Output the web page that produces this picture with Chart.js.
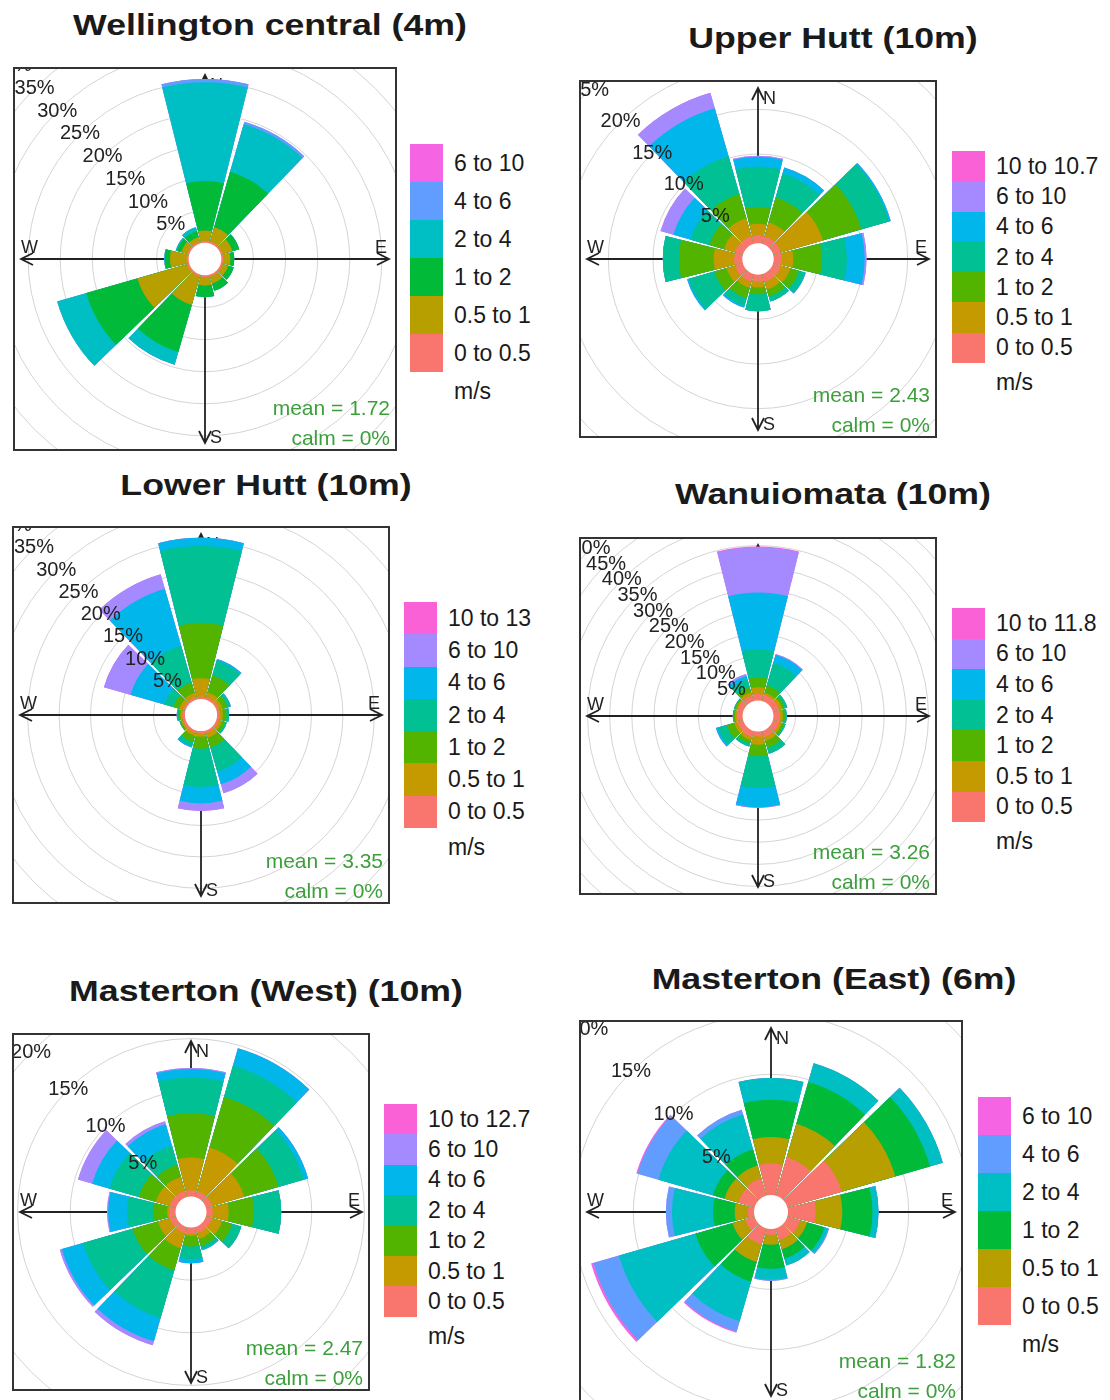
<!DOCTYPE html>
<html>
<head>
<meta charset="utf-8">
<title>Wind roses</title>
<script src="https://cdn.jsdelivr.net/npm/chart.js@4.4.1/dist/chart.umd.min.js"></script>
<style>
  body { margin: 0; background: #fff; font-family: "Liberation Sans", Arial, sans-serif; color: #1a1a1a; }
  #page { position: relative; width: 1110px; height: 1400px; overflow: hidden; }
  .title { position: absolute; width: 500px; text-align: center; font-weight: bold; font-size: 29px;
           line-height: 34px; white-space: nowrap; transform: scaleX(1.23); }
  .box { position: absolute; border: 2px solid #333; box-sizing: border-box; background: #fff; }
  .box canvas { display: block; }
  .legend { position: absolute; font-size: 23px; }
  .legend .row { display: flex; align-items: center; }
  .legend .sw { width: 33px; height: 100%; }
  .legend .lab { margin-left: 11px; white-space: nowrap; }
</style>
</head>
<body>
<div id="page"></div>
<script>
// wind direction sectors (degrees from north), 30 degree bins
const directions = [0, 30, 60, 90, 120, 150, 180, 210, 240, 270, 300, 330];

const titles = ['Wellington central (4m)', 'Upper Hutt (10m)', 'Lower Hutt (10m)',
                'Wanuiomata (10m)', 'Masterton (West) (10m)', 'Masterton (East) (6m)'];
const means = ['1.72', '2.43', '3.35', '3.26', '2.47', '1.82'];
const calms = ['0%', '0%', '0%', '0%', '0%', '0%'];

// speed bins (m/s), lowest first
const binsWellington = ['0 to 0.5', '0.5 to 1', '1 to 2', '2 to 4', '4 to 6', '6 to 10'];
const binsUpperHutt = ['0 to 0.5', '0.5 to 1', '1 to 2', '2 to 4', '4 to 6', '6 to 10', '10 to 10.7'];
const binsLowerHutt = ['0 to 0.5', '0.5 to 1', '1 to 2', '2 to 4', '4 to 6', '6 to 10', '10 to 13'];
const binsWainui = ['0 to 0.5', '0.5 to 1', '1 to 2', '2 to 4', '4 to 6', '6 to 10', '10 to 11.8'];
const binsMastertonW = ['0 to 0.5', '0.5 to 1', '1 to 2', '2 to 4', '4 to 6', '6 to 10', '10 to 12.7'];
const binsMastertonE = ['0 to 0.5', '0.5 to 1', '1 to 2', '2 to 4', '4 to 6', '6 to 10'];

const colors6 = ['#F8766D', '#B79F00', '#00BA38', '#00BFC4', '#619CFF', '#F564E3'];
const colors7 = ['#F8766D', '#C49A00', '#53B400', '#00C094', '#00B6EB', '#A58AFF', '#FB61D7'];

// frequency (% of time): one row per speed bin, one column per direction
const wellingtonFreq = [
  [0.3, 0.3, 0.3, 0.3, 0.3, 0.3, 0.3, 0.3, 0.3, 0.3, 0.3, 0.3],
  [1.6, 2.3, 1.6, 1.1, 0.9, 1.1, 1.3, 4.6, 8.1, 2.6, 1.0, 0.7],
  [7.7, 9.0, 1.1, 0.6, 0.9, 1.2, 1.8, 7.6, 8.3, 0.8, 0.7, 1.0],
  [15.4, 7.7, 0, 0, 0, 0, 0, 2.1, 4.7, 0.1, 0.2, 0.6],
  [0.5, 0.4, 0, 0, 0, 0, 0, 0, 0, 0, 0, 0],
  [0, 0, 0, 0, 0, 0, 0, 0, 0, 0, 0, 0]
];
const upperHuttFreq = [
  [0.9, 0.9, 0.9, 0.9, 0.9, 0.9, 0.8, 0.9, 0.9, 0.9, 0.9, 0.9],
  [1.3, 1.6, 4.9, 1.3, 1.1, 0.9, 0.6, 0.7, 1.0, 2.3, 1.3, 2.1],
  [1.9, 2.9, 4.5, 3.2, 1.0, 0.8, 0.8, 1.2, 1.4, 3.9, 1.7, 2.8],
  [4.5, 2.8, 3.2, 2.8, 0.7, 0.6, 1.9, 0.9, 3.0, 1.8, 2.2, 4.4],
  [1.1, 0.7, 0.2, 2.0, 0.1, 0, 0, 0.2, 0.2, 0, 2.0, 5.6],
  [0.1, 0, 0, 0.2, 0, 0, 0, 0, 0, 0, 1.5, 1.8],
  [0, 0, 0, 0, 0, 0, 0, 0, 0, 0, 0, 0]
];
const lowerHuttFreq = [
  [0.4, 0.4, 0.4, 0.4, 0.4, 0.4, 0.4, 0.4, 0.4, 0.4, 0.4, 0.4],
  [2.9, 0.8, 0.6, 0.5, 0.5, 0.8, 0.5, 0.5, 0.3, 0.3, 0.6, 0.7],
  [8.8, 2.8, 0.8, 0.6, 0.5, 1.6, 1.9, 1.0, 0.2, 0.3, 1.0, 1.7],
  [12.2, 2.4, 0.5, 0.4, 0.3, 4.0, 6.1, 0.7, 0.1, 0.2, 1.5, 6.1],
  [1.3, 0.3, 0.1, 0, 0, 2.1, 2.6, 0.2, 0, 0.1, 5.6, 9.4],
  [0, 0, 0, 0, 0, 1.5, 1.2, 0, 0, 0, 4.4, 2.4],
  [0, 0, 0, 0, 0, 0, 0, 0, 0, 0, 0, 0]
];
const wainuiFreq = [
  [1.5, 1.5, 1.5, 1.5, 1.5, 1.5, 1.1, 1.5, 1.3, 1.3, 1.3, 1.3],
  [1.5, 0.5, 0.7, 0.6, 0.6, 0.9, 1.9, 0.7, 0.8, 0.4, 0.4, 0.8],
  [2.2, 1.7, 0.6, 0.5, 0.5, 1.6, 2.6, 0.8, 1.7, 0.3, 0.3, 1.2],
  [6.4, 5.3, 0.6, 0.4, 0.4, 1.4, 7.2, 0.7, 2.1, 0.2, 0.2, 1.8],
  [12.8, 1.9, 0, 0, 0, 0, 4.3, 0, 0.5, 0, 0, 0.9],
  [10.2, 0.2, 0, 0, 0, 0, 0.2, 0, 0, 0, 0, 0.4],
  [0.2, 0, 0, 0, 0, 0, 0, 0, 0, 0, 0, 0]
];
const mastertonWFreq = [
  [0.6, 0.6, 0.6, 0.6, 0.6, 0.6, 0.6, 0.6, 0.6, 0.6, 0.6, 0.6],
  [3.1, 4.3, 3.2, 1.5, 1.0, 0.6, 0.2, 1.5, 1.2, 0.2, 1.4, 1.4],
  [4.2, 5.0, 3.4, 2.4, 1.0, 0.7, 1.0, 2.2, 2.5, 1.3, 1.7, 1.2],
  [3.4, 3.1, 2.5, 2.6, 0.9, 0.3, 1.2, 4.7, 4.9, 2.5, 2.9, 1.9],
  [0.8, 1.7, 0.4, 0, 0, 0.1, 0.4, 2.3, 2.1, 1.8, 1.7, 2.1],
  [0.1, 0, 0, 0, 0, 0, 0, 0.4, 0.2, 0.1, 1.4, 0.3],
  [0, 0, 0, 0, 0, 0, 0, 0, 0, 0, 0, 0]
];
const mastertonEFreq = [
  [2.6, 3.3, 4.7, 2.3, 1.1, 1.0, 0.5, 1.4, 0.8, 0.5, 1.4, 1.5],
  [2.2, 2.9, 4.6, 2.2, 0.6, 0.8, 0.8, 1.5, 1.1, 1.1, 1.2, 1.1],
  [3.1, 3.6, 3.0, 2.5, 1.5, 0.8, 2.0, 1.7, 3.2, 1.8, 1.0, 1.4],
  [1.8, 1.6, 1.1, 0.5, 0.3, 0.6, 0.9, 3.4, 6.6, 3.4, 4.7, 3.0],
  [0, 0, 0, 0, 0.1, 0, 0.1, 0.9, 2.2, 0.5, 1.8, 0.4],
  [0, 0, 0, 0, 0, 0, 0, 0.1, 0.2, 0, 0.1, 0]
];

const speedBins = [binsWellington, binsUpperHutt, binsLowerHutt, binsWainui, binsMastertonW, binsMastertonE];
const freqs = [wellingtonFreq, upperHuttFreq, lowerHuttFreq, wainuiFreq, mastertonWFreq, mastertonEFreq];

// grid circles every 5%
const gridSteps = [5, 10, 15, 20, 25, 30, 35, 40, 45, 50, 55, 60];

// page layout: box = [left, top, size], k = px per percent, title = [centerX, top], legend = [left, top, swatch height]
const layout = [
  { box: [13, 67, 384],   k: 6.42,  title: [270, 7.6], legend: [410, 144, 38] },
  { box: [579, 80, 358],  k: 8.93,  title: [833, 21],  legend: [952, 151, 30.3] },
  { box: [12, 526, 378],  k: 6.29,  title: [266, 468], legend: [404, 602, 32.3] },
  { box: [579, 537, 358], k: 4.43,  title: [833, 477], legend: [952, 608, 30.6] },
  { box: [12, 1033, 358], k: 10.53, title: [266, 974], legend: [384, 1104, 30.4] },
  { box: [579, 1020, 384], k: 12.07, title: [834, 962], legend: [978, 1097, 38] }
];

const PETAL = 28; // degrees drawn per 30 degree sector, the rest is the white gap
const FONT = '"Liberation Sans", Arial, sans-serif';

// axes, compass letters, centre hole, % labels and the mean/calm note
const roseDecor = {
  id: 'roseDecor',
  beforeDatasetsDraw(chart) {
    const ctx = chart.ctx, s = chart.scales.r;
    const cx = s.xCenter, cy = s.yCenter;
    const L = Math.min(chart.width, chart.height) / 2 - 6;
    const a = 12, w = 6;
    ctx.save();
    ctx.strokeStyle = '#222';
    ctx.lineWidth = 1.8;
    ctx.beginPath();
    ctx.moveTo(cx - L, cy); ctx.lineTo(cx + L, cy);
    ctx.moveTo(cx, cy - L); ctx.lineTo(cx, cy + L);
    [[0, -1], [1, 0], [0, 1], [-1, 0]].forEach(([dx, dy]) => {
      const tx = cx + dx * L, ty = cy + dy * L;
      ctx.moveTo(tx - a * dx - w * dy, ty - a * dy + w * dx);
      ctx.lineTo(tx, ty);
      ctx.lineTo(tx - a * dx + w * dy, ty - a * dy - w * dx);
    });
    ctx.stroke();

    ctx.fillStyle = '#222';
    ctx.font = '18px ' + FONT;
    ctx.textAlign = 'left';
    ctx.textBaseline = 'top';
    ctx.fillText('N', cx + 5, cy - L + 2);
    ctx.textBaseline = 'alphabetic';
    ctx.fillText('S', cx + 5, cy + L);
    ctx.fillText('W', cx - L, cy - 6);
    ctx.textAlign = 'right';
    ctx.fillText('E', cx + L - 2, cy - 6);
    ctx.restore();
  },
  afterDatasetsDraw(chart, args, opts) {
    const ctx = chart.ctx, s = chart.scales.r;
    const cx = s.xCenter, cy = s.yCenter;
    ctx.save();
    // calm hole in the middle
    ctx.fillStyle = '#fff';
    ctx.beginPath();
    ctx.arc(cx, cy, s.getDistanceFromCenterForValue(0), 0, Math.PI * 2);
    ctx.fill();

    ctx.fillStyle = '#222';
    ctx.font = '20px ' + FONT;
    ctx.textAlign = 'center';
    ctx.textBaseline = 'middle';
    gridSteps.forEach(v => {
      const r = s.getDistanceFromCenterForValue(v);
      ctx.fillText(v + '%', cx - r * Math.SQRT1_2, cy - r * Math.SQRT1_2);
    });

    ctx.fillStyle = '#3c9f3c';
    ctx.font = '21px ' + FONT;
    ctx.textAlign = 'right';
    ctx.textBaseline = 'alphabetic';
    ctx.fillText('mean = ' + opts.mean, chart.width - 5, chart.height - 34);
    ctx.fillText('calm = ' + opts.calm, chart.width - 5, chart.height - 4);
    ctx.restore();
  }
};

const page = document.getElementById('page');

function buildRose(i) {
  const L = layout[i];
  const freq = freqs[i];
  const bins = speedBins[i];
  const colors = freq.length === 6 ? colors6 : colors7;
  const [left, top, size] = L.box;
  const inner = size - 4;

  // title
  const t = document.createElement('div');
  t.className = 'title';
  t.textContent = titles[i];
  t.style.left = (L.title[0] - 250) + 'px';
  t.style.top = L.title[1] + 'px';
  page.appendChild(t);

  // framed plot
  const box = document.createElement('div');
  box.className = 'box';
  box.style.left = left + 'px';
  box.style.top = top + 'px';
  box.style.width = size + 'px';
  box.style.height = size + 'px';
  const canvas = document.createElement('canvas');
  canvas.width = inner;
  canvas.height = inner;
  box.appendChild(canvas);
  page.appendChild(box);

  // stack the bins: each dataset is the cumulative total up to that speed
  const cum = [];
  let run = directions.map(() => 0);
  freq.forEach(row => {
    run = run.map((v, j) => v + row[j]);
    cum.push(run.slice());
  });
  const totals = cum[cum.length - 1];
  const offset = 0.1 * Math.max(...totals);

  const labels = [];
  const angles = [];
  directions.forEach(d => {
    labels.push(d + '°', '');
    angles.push(PETAL, 30 - PETAL);
  });

  const datasets = cum.map((c, b) => ({
    label: bins[b],
    data: c.flatMap(v => [v, -offset]),
    backgroundColor: colors[b],
    borderWidth: 0,
    angle: angles
  }));

  new Chart(canvas, {
    type: 'polarArea',
    data: { labels: labels, datasets: datasets },
    options: {
      responsive: false,
      animation: false,
      devicePixelRatio: 1,
      layout: { padding: 0 },
      plugins: {
        legend: { display: false },
        tooltip: { enabled: false },
        roseDecor: { mean: means[i], calm: calms[i] }
      },
      scales: {
        r: {
          min: -offset,
          max: (inner / 2) / L.k - offset,
          startAngle: -PETAL / 2,
          angleLines: { display: false },
          pointLabels: { display: false },
          ticks: { display: false },
          grid: { circular: true, color: '#d4d4d4', lineWidth: 1 },
          afterBuildTicks: sc => { sc.ticks = gridSteps.map(v => ({ value: v })); }
        }
      }
    },
    plugins: [roseDecor]
  });

  // legend, highest speed on top
  const leg = document.createElement('div');
  leg.className = 'legend';
  leg.style.left = L.legend[0] + 'px';
  leg.style.top = L.legend[1] + 'px';
  for (let b = bins.length - 1; b >= 0; b--) {
    const row = document.createElement('div');
    row.className = 'row';
    row.style.height = L.legend[2] + 'px';
    const sw = document.createElement('div');
    sw.className = 'sw';
    sw.style.background = colors[b];
    const lab = document.createElement('span');
    lab.className = 'lab';
    lab.textContent = bins[b];
    row.appendChild(sw);
    row.appendChild(lab);
    leg.appendChild(row);
  }
  const unit = document.createElement('div');
  unit.textContent = 'm/s';
  unit.style.marginLeft = '44px';
  unit.style.lineHeight = '38px';
  leg.appendChild(unit);
  page.appendChild(leg);
}

titles.forEach((t, i) => buildRose(i));
</script>
</body>
</html>
